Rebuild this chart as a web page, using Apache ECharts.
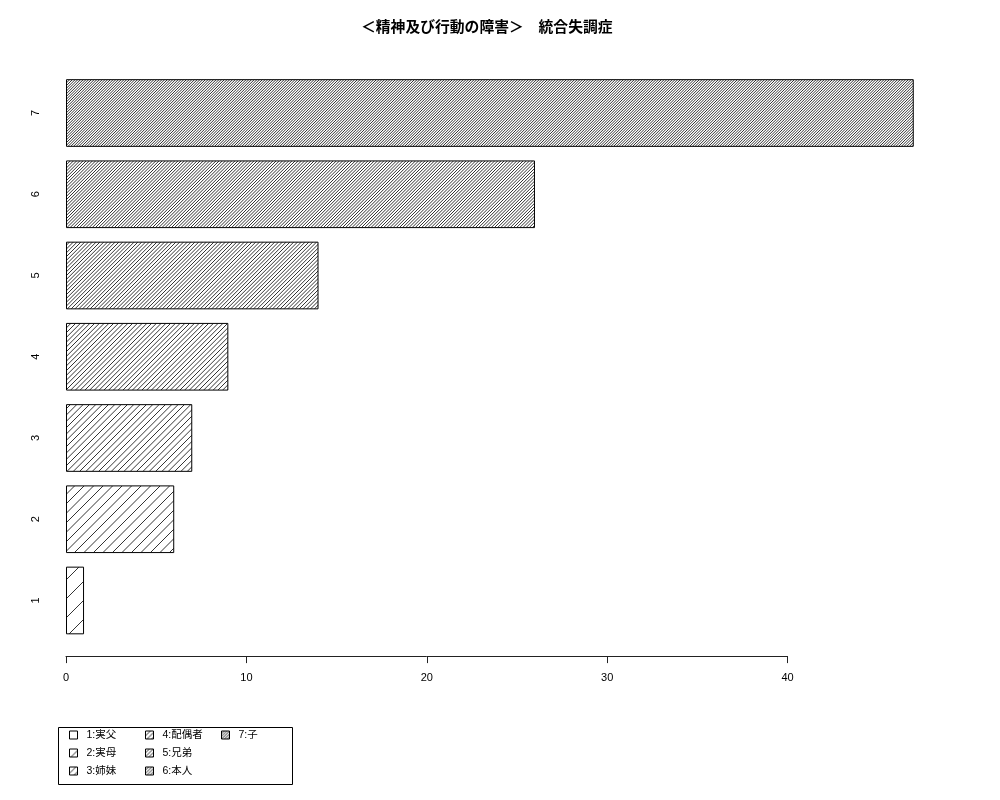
<!DOCTYPE html>
<html>
<head>
<meta charset="utf-8">
<script src="https://cdn.jsdelivr.net/npm/echarts@6/dist/echarts.min.js"></script>
<style>html,body{margin:0;padding:0;background:#fff}#c{width:1000px;height:800px}</style>
</head>
<body>
<div id="c"></div>
<script>
const titleText = '＜精神及び行動の障害＞　統合失調症';
const categories = ['1', '2', '3', '4', '5', '6', '7'];
const values = [1, 6, 7, 9, 14, 26, 47];
const legendLabels = ['1:実父', '2:実母', '3:姉妹', '4:配偶者', '5:兄弟', '6:本人', '7:子'];
const xTicks = [0, 10, 20, 30, 40];

const FONT = "'Liberation Sans', 'Noto Sans CJK JP', sans-serif";

function hatch(k) {
  const s = 19;
  const c = document.createElement('canvas');
  c.width = s; c.height = s;
  const g = c.getContext('2d');
  g.fillStyle = '#fff';
  g.fillRect(0, 0, s, s);
  g.strokeStyle = '#000';
  g.lineWidth = 0.8;
  for (let i = -k; i <= k; i++) {
    const x0 = i * s / k;
    g.beginPath();
    g.moveTo(x0, s);
    g.lineTo(x0 + s, 0);
    g.stroke();
  }
  return c;
}

const series = values.map((v, i) => ({
  type: 'bar',
  name: legendLabels[i],
  data: categories.map((c, j) => (j === i ? v : '-')),
  barWidth: '83.3%',
  barGap: '-100%',
  clip: false,
  silent: true,
  itemStyle: {
    color: { image: hatch(i + 1), repeat: 'repeat' },
    borderColor: '#000',
    borderWidth: 1
  }
}));

function legendCol(names, left) {
  return {
    data: names,
    orient: 'vertical',
    left: left,
    top: 729,
    padding: 0,
    itemGap: 6,
    itemWidth: 8,
    itemHeight: 8,
    icon: 'rect',
    selectedMode: false,
    itemStyle: { borderColor: '#000', borderWidth: 1 },
    textStyle: { fontSize: 10.5, color: '#000', fontFamily: FONT, lineHeight: 12, padding: [0, 0, 0, 4] }
  };
}

const chart = echarts.init(document.getElementById('c'), null, { renderer: 'canvas' });
chart.setOption({
  animation: false,
  backgroundColor: '#fff',
  title: {
    text: titleText,
    left: 361,
    top: 21,
    padding: 0,
    textStyle: { fontSize: 14.8, fontWeight: 'bold', color: '#000', fontFamily: FONT }
  },
  grid: { left: 66, right: 212.5, top: 72.4, bottom: 158.9, containLabel: false },
  xAxis: {
    type: 'value',
    min: 0,
    max: 40,
    interval: 10,
    offset: 15,
    axisLine: { show: true, lineStyle: { color: '#222', width: 1 } },
    axisTick: { show: true, length: 7, lineStyle: { color: '#222' } },
    axisLabel: { margin: 16, fontSize: 11, color: '#000', fontFamily: FONT },
    splitLine: { show: false }
  },
  yAxis: {
    type: 'category',
    data: categories,
    axisLine: { show: false },
    axisTick: { show: false },
    axisLabel: { rotate: 90, margin: 25, fontSize: 11, color: '#000', fontFamily: FONT },
    splitLine: { show: false }
  },
  legend: [
    legendCol(legendLabels.slice(0, 3), 69),
    legendCol(legendLabels.slice(3, 6), 145),
    legendCol(legendLabels.slice(6, 7), 221)
  ],
  graphic: [{
    type: 'rect',
    left: 56, top: 725,
    shape: { width: 234, height: 57 },
    style: { fill: 'none', stroke: '#000', lineWidth: 1 },
    silent: true
  }],
  series: series
});
</script>
</body>
</html>
